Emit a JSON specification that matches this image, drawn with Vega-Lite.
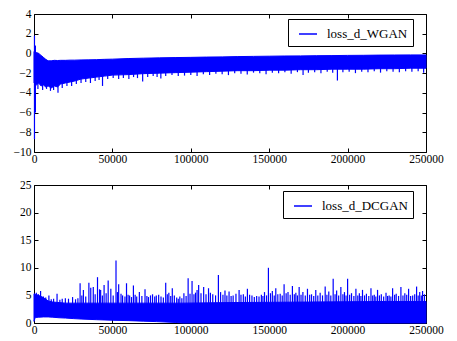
{
  "$schema": "https://vega.github.io/schema/vega-lite/v6.json",
  "padding": {"left": 12, "top": 7, "right": 5, "bottom": 5},
  "spacing": 33,
  "bounds": "flush",
  "config": {
    "font": "Liberation Serif",
    "view": {"stroke": "black", "strokeWidth": 1},
    "axis": {"grid": false, "domain": false, "tickColor": "black", "tickSize": -4, "labelFont": "Liberation Serif", "labelFontSize": 11.5, "labelColor": "black", "title": null, "labelPadding": 5, "labelFlush": false},
    "axisLeft": {"labelPadding": 7},
    "legend": {"orient": "none", "strokeColor": "black", "fillColor": "white", "padding": 5, "cornerRadius": 0, "symbolType": "stroke", "symbolStrokeWidth": 1.5, "symbolSize": 324, "symbolOffset": 5, "labelOffset": 9, "labelFont": "Liberation Serif", "labelFontSize": 13, "labelColor": "black", "title": null}
  },
  "resolve": {"scale": {"color": "independent"}},
  "datasets": {
    "wgan_band": [
      {"x": 0, "hi": 0.2, "lo": -3.0}, {"x": 1500, "hi": 0.1, "lo": -3.2}, {"x": 3000, "hi": 0.0, "lo": -3.0},
      {"x": 4500, "hi": -0.2, "lo": -3.3}, {"x": 6000, "hi": -0.4, "lo": -3.2}, {"x": 7500, "hi": -0.6, "lo": -3.4},
      {"x": 9000, "hi": -0.75, "lo": -3.3}, {"x": 11000, "hi": -0.75, "lo": -3.5}, {"x": 13000, "hi": -0.7, "lo": -3.3},
      {"x": 15000, "hi": -0.72, "lo": -3.4}, {"x": 17000, "hi": -0.7, "lo": -3.1}, {"x": 20000, "hi": -0.7, "lo": -3.0},
      {"x": 23000, "hi": -0.68, "lo": -2.9}, {"x": 26000, "hi": -0.68, "lo": -2.8}, {"x": 30000, "hi": -0.66, "lo": -2.6},
      {"x": 35000, "hi": -0.65, "lo": -2.5}, {"x": 40000, "hi": -0.63, "lo": -2.4}, {"x": 45000, "hi": -0.6, "lo": -2.3},
      {"x": 50000, "hi": -0.58, "lo": -2.2}, {"x": 60000, "hi": -0.52, "lo": -2.15}, {"x": 70000, "hi": -0.48, "lo": -2.05},
      {"x": 80000, "hi": -0.45, "lo": -2.0}, {"x": 90000, "hi": -0.42, "lo": -1.95}, {"x": 100000, "hi": -0.4, "lo": -1.9},
      {"x": 110000, "hi": -0.37, "lo": -1.85}, {"x": 120000, "hi": -0.35, "lo": -1.8}, {"x": 130000, "hi": -0.32, "lo": -1.75},
      {"x": 140000, "hi": -0.3, "lo": -1.75}, {"x": 150000, "hi": -0.28, "lo": -1.7}, {"x": 160000, "hi": -0.26, "lo": -1.7},
      {"x": 170000, "hi": -0.25, "lo": -1.65}, {"x": 180000, "hi": -0.23, "lo": -1.65}, {"x": 190000, "hi": -0.22, "lo": -1.6},
      {"x": 200000, "hi": -0.2, "lo": -1.6}, {"x": 210000, "hi": -0.19, "lo": -1.6}, {"x": 220000, "hi": -0.17, "lo": -1.55},
      {"x": 230000, "hi": -0.16, "lo": -1.55}, {"x": 240000, "hi": -0.15, "lo": -1.5}, {"x": 250000, "hi": -0.15, "lo": -1.5}
    ],
    "wgan_spikes": [
      {"x": 300, "lo": -8.7, "hi": 1.8}, {"x": 900, "lo": -6.0, "hi": 0.8},
      {"x": 2500, "lo": -3.6, "hi": -1.2}, {"x": 5500, "lo": -3.7, "hi": -1.2}, {"x": 8000, "lo": -3.6, "hi": -1.2},
      {"x": 10500, "lo": -3.8, "hi": -1.2}, {"x": 12500, "lo": -3.7, "hi": -1.2}, {"x": 15300, "lo": -4.0, "hi": -1.2},
      {"x": 18000, "lo": -3.5, "hi": -1.2}, {"x": 21000, "lo": -3.3, "hi": -1.2}, {"x": 24000, "lo": -3.3, "hi": -1.2},
      {"x": 27000, "lo": -3.1, "hi": -1.2}, {"x": 30000, "lo": -3.0, "hi": -1.2}, {"x": 33000, "lo": -2.9, "hi": -1.2},
      {"x": 36000, "lo": -3.0, "hi": -1.2}, {"x": 39000, "lo": -2.8, "hi": -1.2}, {"x": 41500, "lo": -2.7, "hi": -1.2},
      {"x": 43700, "lo": -3.3, "hi": -1.2}, {"x": 47000, "lo": -2.6, "hi": -1.2}, {"x": 50500, "lo": -2.5, "hi": -1.2},
      {"x": 54000, "lo": -2.6, "hi": -1.2}, {"x": 57000, "lo": -2.5, "hi": -1.2}, {"x": 60500, "lo": -2.6, "hi": -1.2},
      {"x": 63500, "lo": -2.4, "hi": -1.2}, {"x": 66000, "lo": -2.5, "hi": -1.2}, {"x": 69300, "lo": -2.85, "hi": -1.2},
      {"x": 72500, "lo": -2.4, "hi": -1.2}, {"x": 76000, "lo": -2.3, "hi": -1.2}, {"x": 78500, "lo": -2.4, "hi": -1.2},
      {"x": 80900, "lo": -2.55, "hi": -1.2}, {"x": 84000, "lo": -2.3, "hi": -1.2}, {"x": 88000, "lo": -2.2, "hi": -1.2},
      {"x": 92000, "lo": -2.3, "hi": -1.2}, {"x": 96000, "lo": -2.25, "hi": -1.2}, {"x": 100000, "lo": -2.2, "hi": -1.2},
      {"x": 104000, "lo": -2.3, "hi": -1.2}, {"x": 108000, "lo": -2.1, "hi": -1.2}, {"x": 112000, "lo": -2.2, "hi": -1.2},
      {"x": 116000, "lo": -2.05, "hi": -1.2}, {"x": 120000, "lo": -2.1, "hi": -1.2}, {"x": 124000, "lo": -2.2, "hi": -1.2},
      {"x": 128000, "lo": -2.0, "hi": -1.2}, {"x": 132000, "lo": -2.05, "hi": -1.2}, {"x": 136000, "lo": -2.15, "hi": -1.2},
      {"x": 140000, "lo": -1.95, "hi": -1.2}, {"x": 144000, "lo": -2.0, "hi": -1.2}, {"x": 148000, "lo": -2.1, "hi": -1.2},
      {"x": 152000, "lo": -1.95, "hi": -1.2}, {"x": 156000, "lo": -2.0, "hi": -1.2}, {"x": 160000, "lo": -1.9, "hi": -1.2},
      {"x": 164000, "lo": -2.05, "hi": -1.2}, {"x": 168000, "lo": -1.9, "hi": -1.2}, {"x": 171600, "lo": -2.2, "hi": -1.2},
      {"x": 175000, "lo": -1.95, "hi": -1.2}, {"x": 179000, "lo": -1.9, "hi": -1.2}, {"x": 183000, "lo": -2.0, "hi": -1.2},
      {"x": 187000, "lo": -1.85, "hi": -1.2}, {"x": 190500, "lo": -1.95, "hi": -1.2}, {"x": 193500, "lo": -2.75, "hi": -1.2},
      {"x": 197000, "lo": -1.9, "hi": -1.2}, {"x": 201000, "lo": -1.85, "hi": -1.2}, {"x": 205000, "lo": -2.0, "hi": -1.2},
      {"x": 209000, "lo": -1.85, "hi": -1.2}, {"x": 213000, "lo": -1.9, "hi": -1.2}, {"x": 217000, "lo": -1.8, "hi": -1.2},
      {"x": 221000, "lo": -1.95, "hi": -1.2}, {"x": 225000, "lo": -1.8, "hi": -1.2}, {"x": 229000, "lo": -1.85, "hi": -1.2},
      {"x": 233000, "lo": -1.9, "hi": -1.2}, {"x": 237000, "lo": -1.8, "hi": -1.2}, {"x": 241000, "lo": -1.85, "hi": -1.2},
      {"x": 245000, "lo": -1.8, "hi": -1.2}, {"x": 248500, "lo": -1.95, "hi": -1.2}
    ],
    "dcgan_band": [
      {"x": 0, "hi": 5.3, "lo": 0.3}, {"x": 800, "hi": 5.2, "lo": 1.0}, {"x": 3000, "hi": 5.0, "lo": 1.05},
      {"x": 6000, "hi": 4.6, "lo": 1.1}, {"x": 9000, "hi": 4.0, "lo": 1.1}, {"x": 12000, "hi": 3.8, "lo": 1.05},
      {"x": 16000, "hi": 3.7, "lo": 0.95}, {"x": 20000, "hi": 3.6, "lo": 0.9}, {"x": 25000, "hi": 3.6, "lo": 0.8},
      {"x": 30000, "hi": 3.6, "lo": 0.72}, {"x": 40000, "hi": 3.6, "lo": 0.6}, {"x": 50000, "hi": 3.6, "lo": 0.5},
      {"x": 60000, "hi": 3.6, "lo": 0.43}, {"x": 70000, "hi": 3.6, "lo": 0.33}, {"x": 78000, "hi": 3.6, "lo": 0.25},
      {"x": 90000, "hi": 3.6, "lo": 0.1}, {"x": 95000, "hi": 3.6, "lo": 0}, {"x": 125000, "hi": 3.7, "lo": 0},
      {"x": 150000, "hi": 3.75, "lo": 0}, {"x": 175000, "hi": 3.8, "lo": 0}, {"x": 200000, "hi": 3.85, "lo": 0},
      {"x": 225000, "hi": 3.9, "lo": 0}, {"x": 250000, "hi": 3.9, "lo": 0}
    ],
    "dcgan_spikes": [
      {"x": 1500, "peak": 5.5}, {"x": 2800, "peak": 5.2}, {"x": 4200, "peak": 5.8}, {"x": 6000, "peak": 4.8}, {"x": 7500, "peak": 4.6},
      {"x": 9500, "peak": 5.0}, {"x": 11000, "peak": 4.3}, {"x": 12500, "peak": 4.4}, {"x": 14700, "peak": 5.3}, {"x": 16500, "peak": 4.2},
      {"x": 18000, "peak": 4.4}, {"x": 20000, "peak": 4.5}, {"x": 22000, "peak": 4.4}, {"x": 24600, "peak": 4.7}, {"x": 26500, "peak": 4.3},
      {"x": 28000, "peak": 4.5}, {"x": 29400, "peak": 7.2}, {"x": 30500, "peak": 5.0}, {"x": 31500, "peak": 6.0}, {"x": 33000, "peak": 4.8},
      {"x": 35000, "peak": 7.3}, {"x": 36200, "peak": 6.4}, {"x": 37800, "peak": 6.5}, {"x": 39000, "peak": 5.2}, {"x": 40500, "peak": 8.3},
      {"x": 41800, "peak": 6.1}, {"x": 42500, "peak": 6.0}, {"x": 43600, "peak": 5.0}, {"x": 44700, "peak": 6.9}, {"x": 46000, "peak": 5.4},
      {"x": 47300, "peak": 7.7}, {"x": 49000, "peak": 6.2}, {"x": 50500, "peak": 5.0}, {"x": 52300, "peak": 11.3}, {"x": 53200, "peak": 5.6},
      {"x": 54000, "peak": 7.0}, {"x": 55500, "peak": 5.3}, {"x": 56500, "peak": 5.0}, {"x": 58000, "peak": 4.8}, {"x": 59000, "peak": 7.2},
      {"x": 60000, "peak": 5.1}, {"x": 61000, "peak": 5.0}, {"x": 62200, "peak": 4.7}, {"x": 63400, "peak": 6.8}, {"x": 64500, "peak": 5.1},
      {"x": 65500, "peak": 4.8}, {"x": 67200, "peak": 5.6}, {"x": 68800, "peak": 4.9}, {"x": 70800, "peak": 6.1}, {"x": 72000, "peak": 4.9},
      {"x": 73000, "peak": 4.7}, {"x": 74300, "peak": 5.0}, {"x": 75600, "peak": 5.2}, {"x": 77000, "peak": 4.8}, {"x": 78000, "peak": 5.0},
      {"x": 79500, "peak": 5.1}, {"x": 81000, "peak": 4.8}, {"x": 82500, "peak": 4.6}, {"x": 84000, "peak": 7.3}, {"x": 85000, "peak": 5.2},
      {"x": 86000, "peak": 5.5}, {"x": 87200, "peak": 4.9}, {"x": 88200, "peak": 6.3}, {"x": 89500, "peak": 5.0}, {"x": 91000, "peak": 4.6},
      {"x": 92000, "peak": 4.4}, {"x": 93000, "peak": 4.8}, {"x": 94300, "peak": 4.5}, {"x": 95600, "peak": 5.4}, {"x": 97000, "peak": 4.9},
      {"x": 98300, "peak": 8.1}, {"x": 99500, "peak": 5.3}, {"x": 100800, "peak": 7.6}, {"x": 102000, "peak": 5.2}, {"x": 103000, "peak": 5.5},
      {"x": 104000, "peak": 6.0}, {"x": 105000, "peak": 6.9}, {"x": 106500, "peak": 5.4}, {"x": 108200, "peak": 6.5}, {"x": 109700, "peak": 5.2},
      {"x": 111300, "peak": 6.3}, {"x": 112500, "peak": 5.5}, {"x": 114000, "peak": 5.2}, {"x": 115800, "peak": 5.0}, {"x": 117600, "peak": 8.7},
      {"x": 119000, "peak": 5.6}, {"x": 120500, "peak": 5.1}, {"x": 121800, "peak": 5.9}, {"x": 123000, "peak": 5.0}, {"x": 124400, "peak": 5.7},
      {"x": 125700, "peak": 4.9}, {"x": 127000, "peak": 5.0}, {"x": 128800, "peak": 5.3}, {"x": 130800, "peak": 6.0}, {"x": 132000, "peak": 5.1},
      {"x": 133500, "peak": 5.2}, {"x": 134800, "peak": 4.8}, {"x": 136100, "peak": 6.2}, {"x": 137500, "peak": 5.1}, {"x": 139000, "peak": 5.0},
      {"x": 140500, "peak": 4.7}, {"x": 142000, "peak": 4.9}, {"x": 143500, "peak": 4.8}, {"x": 145000, "peak": 5.1}, {"x": 146000, "peak": 4.9},
      {"x": 147000, "peak": 5.6}, {"x": 148300, "peak": 5.0}, {"x": 149500, "peak": 10.0}, {"x": 150800, "peak": 5.4}, {"x": 152000, "peak": 5.8},
      {"x": 153200, "peak": 5.0}, {"x": 154200, "peak": 6.3}, {"x": 155500, "peak": 5.2}, {"x": 157000, "peak": 5.3}, {"x": 158300, "peak": 5.0},
      {"x": 159500, "peak": 7.0}, {"x": 160800, "peak": 5.4}, {"x": 162000, "peak": 5.6}, {"x": 163400, "peak": 5.1}, {"x": 164800, "peak": 6.7},
      {"x": 166000, "peak": 5.2}, {"x": 167000, "peak": 5.5}, {"x": 168000, "peak": 5.0}, {"x": 169100, "peak": 6.5}, {"x": 170300, "peak": 5.1},
      {"x": 171500, "peak": 5.6}, {"x": 173000, "peak": 5.0}, {"x": 174400, "peak": 6.2}, {"x": 175800, "peak": 5.1}, {"x": 177000, "peak": 5.2},
      {"x": 178400, "peak": 4.9}, {"x": 179700, "peak": 6.0}, {"x": 181000, "peak": 5.0}, {"x": 182500, "peak": 5.5}, {"x": 184000, "peak": 5.0},
      {"x": 185700, "peak": 6.6}, {"x": 186800, "peak": 5.1}, {"x": 188000, "peak": 5.7}, {"x": 189300, "peak": 5.0}, {"x": 190800, "peak": 8.0},
      {"x": 192000, "peak": 5.2}, {"x": 193000, "peak": 5.9}, {"x": 194300, "peak": 5.0}, {"x": 195700, "peak": 6.5}, {"x": 197000, "peak": 5.2},
      {"x": 198000, "peak": 5.6}, {"x": 199000, "peak": 5.0}, {"x": 200000, "peak": 8.0}, {"x": 201300, "peak": 5.1}, {"x": 202500, "peak": 5.4},
      {"x": 204000, "peak": 4.9}, {"x": 205300, "peak": 6.2}, {"x": 206500, "peak": 5.0}, {"x": 207500, "peak": 5.4}, {"x": 208500, "peak": 4.9},
      {"x": 209500, "peak": 6.0}, {"x": 210800, "peak": 5.0}, {"x": 212000, "peak": 5.3}, {"x": 213500, "peak": 4.9}, {"x": 214900, "peak": 6.3},
      {"x": 216000, "peak": 5.0}, {"x": 217000, "peak": 5.1}, {"x": 218000, "peak": 4.8}, {"x": 219100, "peak": 6.0}, {"x": 220300, "peak": 5.0},
      {"x": 221500, "peak": 5.2}, {"x": 223000, "peak": 4.8}, {"x": 224500, "peak": 5.5}, {"x": 225500, "peak": 4.9}, {"x": 226500, "peak": 5.0},
      {"x": 227600, "peak": 4.8}, {"x": 228700, "peak": 6.3}, {"x": 230000, "peak": 5.1}, {"x": 231000, "peak": 5.3}, {"x": 232500, "peak": 4.9},
      {"x": 234000, "peak": 6.5}, {"x": 235300, "peak": 5.0}, {"x": 236500, "peak": 5.4}, {"x": 237700, "peak": 5.1}, {"x": 238900, "peak": 6.2},
      {"x": 240200, "peak": 4.9}, {"x": 241500, "peak": 5.0}, {"x": 242800, "peak": 5.2}, {"x": 244000, "peak": 6.6}, {"x": 245000, "peak": 5.0},
      {"x": 246000, "peak": 5.6}, {"x": 247000, "peak": 5.0}, {"x": 247800, "peak": 5.8}, {"x": 249000, "peak": 5.2}
    ]
  },
  "vconcat": [
    {
      "width": 392,
      "height": 138,
      "resolve": {"axis": {"x": "independent", "y": "independent"}},
      "layer": [
        {
          "data": {"name": "wgan_band"},
          "mark": {"type": "area", "color": "#0000ff", "stroke": "#0000ff", "strokeWidth": 1, "opacity": 1, "fillOpacity": 1},
          "encoding": {
            "x": {"field": "x", "type": "quantitative", "scale": {"domain": [0, 250000], "nice": false, "zero": false},
                  "axis": {"orient": "bottom", "values": [0, 50000, 100000, 150000, 200000, 250000], "format": "d"}},
            "y": {"field": "hi", "type": "quantitative", "scale": {"domain": [-10, 4], "nice": false, "zero": false},
                  "axis": {"orient": "left", "values": [-10, -8, -6, -4, -2, 0, 2, 4], "format": "d"}},
            "y2": {"field": "lo"}
          }
        },
        {
          "data": {"name": "wgan_spikes"},
          "mark": {"type": "rule", "strokeWidth": 1.2},
          "encoding": {
            "x": {"field": "x", "type": "quantitative", "scale": {"domain": [0, 250000], "nice": false, "zero": false},
                  "axis": {"orient": "top", "labels": false, "values": [0, 50000, 100000, 150000, 200000, 250000]}},
            "y": {"field": "lo", "type": "quantitative", "scale": {"domain": [-10, 4], "nice": false, "zero": false},
                  "axis": {"orient": "right", "labels": false, "values": [-10, -8, -6, -4, -2, 0, 2, 4]}},
            "y2": {"field": "hi"},
            "color": {"datum": "loss_d_WGAN", "scale": {"range": ["#0000ff"]},
                      "legend": {"orient": "none", "legendX": 254, "legendY": 5}}
          }
        }
      ]
    },
    {
      "width": 392,
      "height": 138,
      "resolve": {"axis": {"x": "independent", "y": "independent"}},
      "layer": [
        {
          "data": {"name": "dcgan_band"},
          "mark": {"type": "area", "color": "#0000ff", "stroke": "#0000ff", "strokeWidth": 1, "opacity": 1, "fillOpacity": 1},
          "encoding": {
            "x": {"field": "x", "type": "quantitative", "scale": {"domain": [0, 250000], "nice": false, "zero": false},
                  "axis": {"orient": "bottom", "values": [0, 50000, 100000, 150000, 200000, 250000], "format": "d"}},
            "y": {"field": "hi", "type": "quantitative", "scale": {"domain": [0, 25], "nice": false},
                  "axis": {"orient": "left", "values": [0, 5, 10, 15, 20, 25], "format": "d"}},
            "y2": {"field": "lo"}
          }
        },
        {
          "data": {"name": "dcgan_spikes"},
          "mark": {"type": "rule", "strokeWidth": 1.2},
          "encoding": {
            "x": {"field": "x", "type": "quantitative", "scale": {"domain": [0, 250000], "nice": false, "zero": false},
                  "axis": {"orient": "top", "labels": false, "values": [0, 50000, 100000, 150000, 200000, 250000]}},
            "y": {"field": "peak", "type": "quantitative", "scale": {"domain": [0, 25], "nice": false},
                  "axis": {"orient": "right", "labels": false, "values": [0, 5, 10, 15, 20, 25]}},
            "y2": {"datum": 3},
            "color": {"datum": "loss_d_DCGAN", "scale": {"range": ["#0000ff"]},
                      "legend": {"orient": "none", "legendX": 249, "legendY": 6}}
          }
        }
      ]
    }
  ]
}
